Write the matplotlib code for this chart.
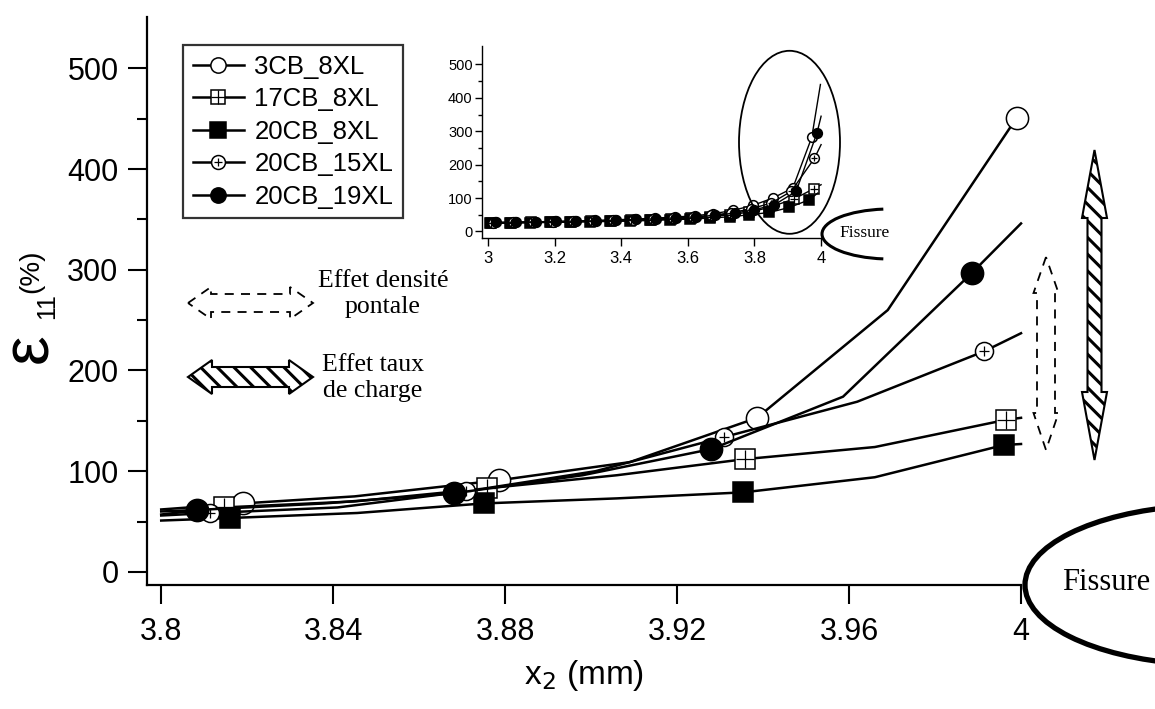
import matplotlib
matplotlib.use("Agg")
import matplotlib.pyplot as plt
import numpy as np
from matplotlib.patches import Polygon, Arc, Ellipse
from matplotlib.lines import Line2D
from matplotlib.legend_handler import HandlerTuple

plt.rcParams['font.family'] = ['Liberation Sans', 'DejaVu Sans']
plt.rcParams['hatch.linewidth'] = 2.2

labels = ["3CB_8XL", "17CB_8XL", "20CB_8XL", "20CB_15XL", "20CB_19XL"]

# main chart: line points, markers on odd indices
x_3cb = [3.800, 3.819, 3.845, 3.8786, 3.909, 3.9386, 3.969, 3.999]
y_3cb = [62, 68, 75, 91, 109, 153, 260, 451]
x_17cb = [3.800, 3.8145, 3.845, 3.8758, 3.906, 3.9358, 3.966, 3.9965, 4.0]
y_17cb = [57, 64, 70, 83, 96, 112, 124, 151, 153]
x_20cb8 = [3.800, 3.8159, 3.8456, 3.875, 3.906, 3.9354, 3.966, 3.996, 4.0]
y_20cb8 = [51, 53.5, 58.5, 68, 73, 79, 94, 126, 127]
x_20cb15 = [3.800, 3.8114, 3.841, 3.871, 3.901, 3.931, 3.9619, 3.9914, 4.0]
y_20cb15 = [56, 58.5, 64, 80, 100, 134, 169, 219, 237]
x_20cb19 = [3.800, 3.8084, 3.838, 3.868, 3.898, 3.928, 3.9586, 3.9886, 4.0]
y_20cb19 = [60, 61.5, 68, 78, 96, 122, 174, 297, 346]
mark_idx = [1, 3, 5, 7]

# inset: full profile
xi_3cb = [3.02, 3.08, 3.14, 3.20, 3.26, 3.32, 3.38, 3.44, 3.50, 3.56, 3.62, 3.675, 3.735, 3.795, 3.855, 3.915, 3.972, 3.998]
yi_3cb = [27, 28, 29, 30, 31, 33, 35, 37, 40, 43, 47, 53, 63, 78, 100, 130, 282, 440]
xi_17cb = [3.01, 3.07, 3.13, 3.19, 3.25, 3.31, 3.37, 3.43, 3.49, 3.55, 3.61, 3.665, 3.725, 3.785, 3.845, 3.92, 3.978, 4.0]
yi_17cb = [25, 26, 27, 28, 29, 30, 31, 33, 35, 37, 40, 44, 50, 58, 72, 98, 128, 140]
xi_20cb8 = [3.005, 3.065, 3.125, 3.185, 3.245, 3.305, 3.365, 3.425, 3.485, 3.545, 3.605, 3.665, 3.725, 3.785, 3.845, 3.905, 3.965, 3.99]
yi_20cb8 = [24, 25, 26, 27, 28, 29, 30, 31, 33, 35, 37, 40, 44, 50, 57, 72, 95, 115]
xi_20cb15 = [3.015, 3.075, 3.135, 3.195, 3.255, 3.315, 3.375, 3.435, 3.495, 3.555, 3.615, 3.67, 3.73, 3.79, 3.85, 3.91, 3.98, 4.0]
yi_20cb15 = [26, 27, 28, 29, 30, 31, 33, 35, 37, 40, 43, 48, 56, 68, 85, 120, 219, 260]
xi_20cb19 = [3.025, 3.085, 3.145, 3.205, 3.265, 3.325, 3.385, 3.445, 3.505, 3.565, 3.625, 3.68, 3.74, 3.80, 3.86, 3.925, 3.988, 4.0]
yi_20cb19 = [27, 28, 29, 30, 31, 32, 34, 36, 38, 41, 44, 48, 55, 65, 80, 120, 296, 345]

xticks_main = [3.8, 3.84, 3.88, 3.92, 3.96, 4.0]
xtick_labels_main = ["3.8", "3.84", "3.88", "3.92", "3.96", "4"]
yticks_main = [0, 100, 200, 300, 400, 500]
xticks_ins = [3.0, 3.2, 3.4, 3.6, 3.8, 4.0]
xtick_labels_ins = ["3", "3.2", "3.4", "3.6", "3.8", "4"]
yticks_ins = [0, 100, 200, 300, 400, 500]

# marker styles: (marker, face, cross overlay)
styles = [("o", "white", False), ("s", "white", True), ("s", "black", False),
          ("o", "white", True), ("o", "black", False)]
main_ms = [16, 14, 14.5, 13, 16]
ins_ms = [7, 6.5, 6.5, 7, 7]
leg_ms = [11, 10, 11, 10, 11]


def draw(a, x, y, st, ms, lw, every):
    m, fc, cross = st
    a.plot(x, y, color="k", lw=lw, marker=m, ms=ms, mfc=fc, mec="k",
           mew=1.1, markevery=every, clip_on=False, zorder=3)
    if cross:
        xs = np.array(x)[every]
        ys = np.array(y)[every]
        cs = ms * (0.95 if m == "s" else 0.6)
        a.plot(xs, ys, ls="none", marker="+", ms=cs, mew=0.9, color="k",
               clip_on=False, zorder=4)


fig = plt.figure(figsize=(11.55, 7.09), dpi=100)

ax = fig.add_axes([0.1273, 0.1749, 0.7567, 0.8011])
series_main = [(x_3cb, y_3cb), (x_17cb, y_17cb), (x_20cb8, y_20cb8),
               (x_20cb15, y_20cb15), (x_20cb19, y_20cb19)]
for (x, y), st, ms in zip(series_main, styles, main_ms):
    draw(ax, x, y, st, ms, 1.8, mark_idx)
ax.set_xlim(3.7967, 4.0)
ax.set_ylim(-13, 551)
for s in ["top", "right"]:
    ax.spines[s].set_visible(False)
for s in ["left", "bottom"]:
    ax.spines[s].set_linewidth(1.6)
ax.set_xticks(xticks_main)
ax.set_xticklabels(xtick_labels_main)
ax.set_yticks(yticks_main)
ax.set_yticks([50, 150, 250, 350, 450], minor=True)
ax.tick_params(axis="y", which="major", direction="out", length=13.5, width=1.5,
               labelsize=22, pad=7)
ax.tick_params(axis="y", which="minor", direction="out", length=7, width=1.5)
ax.tick_params(axis="x", which="major", direction="out", length=14, width=1.5,
               labelsize=22, pad=9)
ax.set_xlabel(r"x$_2$ (mm)", fontsize=24, labelpad=8)

# inset
axi = fig.add_axes([0.4171, 0.6639, 0.2938, 0.2716])
series_ins = [(xi_3cb, yi_3cb), (xi_17cb, yi_17cb), (xi_20cb8, yi_20cb8),
              (xi_20cb15, yi_20cb15), (xi_20cb19, yi_20cb19)]
for (x, y), st, ms in zip(series_ins, styles, ins_ms):
    draw(axi, x, y, st, ms, 1.0, list(range(len(x) - 1)))
axi.set_xlim(2.981, 4.0)
axi.set_ylim(-20.4, 556)
axi.patch.set_alpha(0)
for s in ["top", "right"]:
    axi.spines[s].set_visible(False)
for s in ["left", "bottom"]:
    axi.spines[s].set_linewidth(1.0)
axi.set_xticks(xticks_ins)
axi.set_xticklabels(xtick_labels_ins)
axi.set_yticks(yticks_ins)
axi.set_yticks([50, 150, 250, 350, 450], minor=True)
axi.tick_params(axis="y", which="major", length=5, width=1, labelsize=10.5, pad=1.5)
axi.tick_params(axis="y", which="minor", length=3, width=1)
axi.tick_params(axis="x", which="major", length=6, width=1, labelsize=12, pad=3)

# legend
handles = []
for st, ms in zip(styles, leg_ms):
    m, fc, cross = st
    h = Line2D([], [], color="k", lw=1.8, marker=m, ms=ms, mfc=fc, mec="k", mew=1.1)
    if cross:
        c = Line2D([], [], ls="none", marker="+", color="k", mew=0.9,
                   ms=ms * (0.95 if m == "s" else 0.6))
        handles.append((h, c))
    else:
        handles.append(h)
leg = fig.legend(handles, labels, loc="upper left",
                 bbox_to_anchor=(183 / 1155, 1 - 45 / 709), borderaxespad=0,
                 fontsize=18.5, handlelength=2.0, handletextpad=0.4,
                 labelspacing=0.33, borderpad=0.38, fancybox=False,
                 handler_map={tuple: HandlerTuple(ndivide=1)})
leg.get_frame().set_edgecolor("k")
leg.get_frame().set_linewidth(1.6)

# overlay in pixel coordinates for sketch annotations
ov = fig.add_axes([0, 0, 1, 1], zorder=5)
ov.set_xlim(0, 1155)
ov.set_ylim(709, 0)
ov.axis("off")
ov.patch.set_alpha(0)

serif = ["Liberation Serif", "DejaVu Serif"]

dash_h = [(188, 303), (211, 287), (211, 294), (290, 294), (290, 287), (313, 303),
          (290, 319), (290, 312), (211, 312), (211, 319)]
ov.add_patch(Polygon(dash_h, closed=True, fill=False, ec="k", lw=1.3, ls=(0, (5, 4))))
hatch_h = [(188, 377), (212, 360), (212, 367), (289, 367), (289, 360), (313, 377),
           (289, 394), (289, 387), (212, 387), (212, 394)]
ov.add_patch(Polygon(hatch_h, closed=True, fc="white", ec="k", lw=1.5, hatch="\\\\"))
ov.text(383, 294, "Effet densité\npontale", family=serif, fontsize=18.5,
        ha="center", va="center", linespacing=1.25)
ov.text(373, 378, "Effet taux\nde charge", family=serif, fontsize=18.5,
        ha="center", va="center", linespacing=1.25)

dash_v = [(1046, 257), (1033.5, 293), (1037, 293), (1037, 413), (1033.5, 413), (1046, 450),
          (1058.5, 413), (1055, 413), (1055, 293), (1058.5, 293)]
ov.add_patch(Polygon(dash_v, closed=True, fill=False, ec="k", lw=1.3, ls=(0, (5, 4))))
hatch_v = [(1094.5, 150), (1082, 218), (1087.5, 218), (1087.5, 392), (1082, 392), (1094.5, 460),
           (1107, 392), (1101.5, 392), (1101.5, 218), (1107, 218)]
ov.add_patch(Polygon(hatch_v, closed=True, fc="white", ec="k", lw=1.5, hatch="\\\\"))

# crack tip sketches
ov.add_patch(Arc((1215, 585), 380, 160, theta1=112, theta2=248, lw=3.8, color="k"))
ov.text(1106, 582, "Fissure", family=serif, fontsize=22, ha="center", va="center")
ov.add_patch(Arc((890, 234), 136, 50, theta1=105, theta2=255, lw=2.2, color="k"))
ov.text(865, 233, "Fissure", family=serif, fontsize=12.5, ha="center", va="center")
ov.add_patch(Ellipse((789.5, 142.3), 101, 183, fill=False, ec="k", lw=1.3))

# y label
ov.text(30, 348, "ε", fontsize=48, rotation=90, ha="center", va="center")
ov.text(47, 306, "11", fontsize=18, rotation=90, ha="center", va="center")
ov.text(31, 271, "(%)", fontsize=20, rotation=90, ha="center", va="center")

fig.savefig("out.png", dpi=100)
